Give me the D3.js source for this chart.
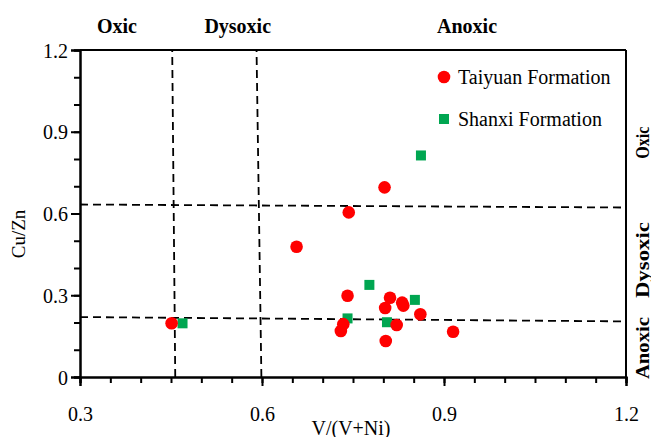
<!DOCTYPE html>
<html><head><meta charset="utf-8">
<script src="https://cdn.jsdelivr.net/npm/d3@7"></script>
<style>
html,body{margin:0;padding:0;background:#fff;}
svg{display:block;}
text{font-family:"Liberation Serif","Times New Roman",serif;fill:#000;}
</style></head>
<body>
<svg id="chart" width="651" height="437"></svg>
<script>
// Data
const taiyuanX = [0.802,0.743,0.657,0.741,0.811,0.803,0.831,0.833,0.861,0.734,0.730,0.822,0.804,0.915,0.451];
const taiyuanY = [0.696,0.604,0.478,0.298,0.291,0.253,0.273,0.262,0.230,0.194,0.169,0.191,0.132,0.166,0.197];
const shanxiX = [0.777,0.852,0.741,0.806,0.862,0.469];
const shanxiY = [0.338,0.283,0.215,0.201,0.813,0.197];
const xTicks = [0.3,0.6,0.9,1.2];
const yTicks = [0,0.3,0.6,0.9,1.2];
const xDomain = [0.3,1.2];
const yDomain = [0,1.2];
// boundary lines [x1,y1,x2,y2]
const boundaryLines = [
  [0.457,0,0.452,1.2],
  [0.599,0,0.591,1.2],
  [0.3,0.633,1.2,0.622],
  [0.3,0.220,1.2,0.204]
];
const topZones = [{label:"Oxic",x:0.361},{label:"Dysoxic",x:0.560},{label:"Anoxic",x:0.938}];
const rightZones = [{label:"Oxic",y:0.86,len:32},{label:"Dysoxic",y:0.429,len:76},{label:"Anoxic",y:0.106,len:62}];
const seriesNames = ["Taiyuan Formation","Shanxi Formation"];

const svg = d3.select("#chart");
const L=80,R=626,T=50,B=377;
const x = d3.scaleLinear().domain(xDomain).range([L,R]);
const y = d3.scaleLinear().domain(yDomain).range([B,T]);
const fmt = d=>d===0?"0":d3.format(".1f")(d);

// boundary dashed lines
svg.append("g").selectAll("line").data(boundaryLines).join("line")
  .attr("x1",d=>x(d[0])).attr("y1",d=>y(d[1])).attr("x2",d=>x(d[2])).attr("y2",d=>y(d[3]))
  .attr("stroke","#000").attr("stroke-width",1.8).attr("stroke-dasharray","8,5");

// frame top/right
svg.append("line").attr("x1",L).attr("x2",R).attr("y1",T).attr("y2",T).attr("stroke","#000").attr("stroke-width",2);
svg.append("line").attr("x1",R).attr("x2",R).attr("y1",T).attr("y2",B).attr("stroke","#000").attr("stroke-width",2);

// x axis
const xMinor = d3.range(0.3,1.2001,0.05);
const gx = svg.append("g").attr("transform",`translate(0,${B})`);
gx.append("g").call(d3.axisBottom(x).tickValues(xMinor).tickSize(6).tickFormat(()=>""));
const gxM = gx.append("g").call(d3.axisBottom(x).tickValues(xTicks).tickSize(9).tickFormat(fmt));
gx.selectAll("path").attr("stroke-width",2);
gx.selectAll("line").attr("stroke-width",2);
gxM.selectAll("text").attr("font-size",20).attr("font-family","Liberation Serif").attr("dy",0).attr("y",44);

// y axis
const yMinor = d3.range(0,1.2001,0.1);
const gy = svg.append("g").attr("transform",`translate(${L},0)`);
gy.append("g").call(d3.axisLeft(y).tickValues(yMinor).tickSize(6).tickFormat(()=>""));
const gyM = gy.append("g").call(d3.axisLeft(y).tickValues(yTicks).tickSize(9).tickFormat(fmt));
gy.selectAll("path").attr("stroke-width",2);
gy.selectAll("line").attr("stroke-width",2);
gyM.selectAll("text").attr("font-size",20).attr("font-family","Liberation Serif").attr("x",-12).attr("dy","0.35em");

// axis titles
svg.append("text").attr("x",351).attr("y",435).attr("text-anchor","middle").attr("font-size",20).text("V/(V+Ni)");
svg.append("text").attr("transform","translate(25,234) rotate(-90)").attr("text-anchor","middle").attr("font-size",19).text("Cu/Zn");

// zone labels top
svg.append("g").selectAll("text").data(topZones).join("text")
  .attr("x",d=>x(d.x)).attr("y",33).attr("text-anchor","middle").attr("font-size",20).attr("font-weight","bold").text(d=>d.label);
// zone labels right
svg.append("g").selectAll("text").data(rightZones).join("text")
  .attr("transform",d=>`translate(649,${y(d.y)}) rotate(-90)`).attr("text-anchor","middle")
  .attr("font-size",19).attr("font-weight","bold").attr("textLength",d=>d.len).attr("lengthAdjust","spacingAndGlyphs").text(d=>d.label);

// points
const tData = taiyuanX.map((v,i)=>({x:v,y:taiyuanY[i]}));
const sData = shanxiX.map((v,i)=>({x:v,y:shanxiY[i]}));
svg.append("g").selectAll("rect").data(sData).join("rect")
  .attr("x",d=>x(d.x)-5).attr("y",d=>y(d.y)-5).attr("width",10).attr("height",10).attr("fill","#00A651");
svg.append("g").selectAll("circle").data(tData).join("circle")
  .attr("cx",d=>x(d.x)).attr("cy",d=>y(d.y)).attr("r",6.3).attr("fill","#FF0000");

// legend
const lg = svg.append("g");
lg.append("circle").attr("cx",444).attr("cy",77).attr("r",6.3).attr("fill","#FF0000");
lg.append("rect").attr("x",439).attr("y",114).attr("width",10).attr("height",10).attr("fill","#00A651");
lg.append("text").attr("x",458).attr("y",84).attr("font-size",20).text(seriesNames[0]);
lg.append("text").attr("x",458).attr("y",126).attr("font-size",20).text(seriesNames[1]);
</script>
</body></html>
